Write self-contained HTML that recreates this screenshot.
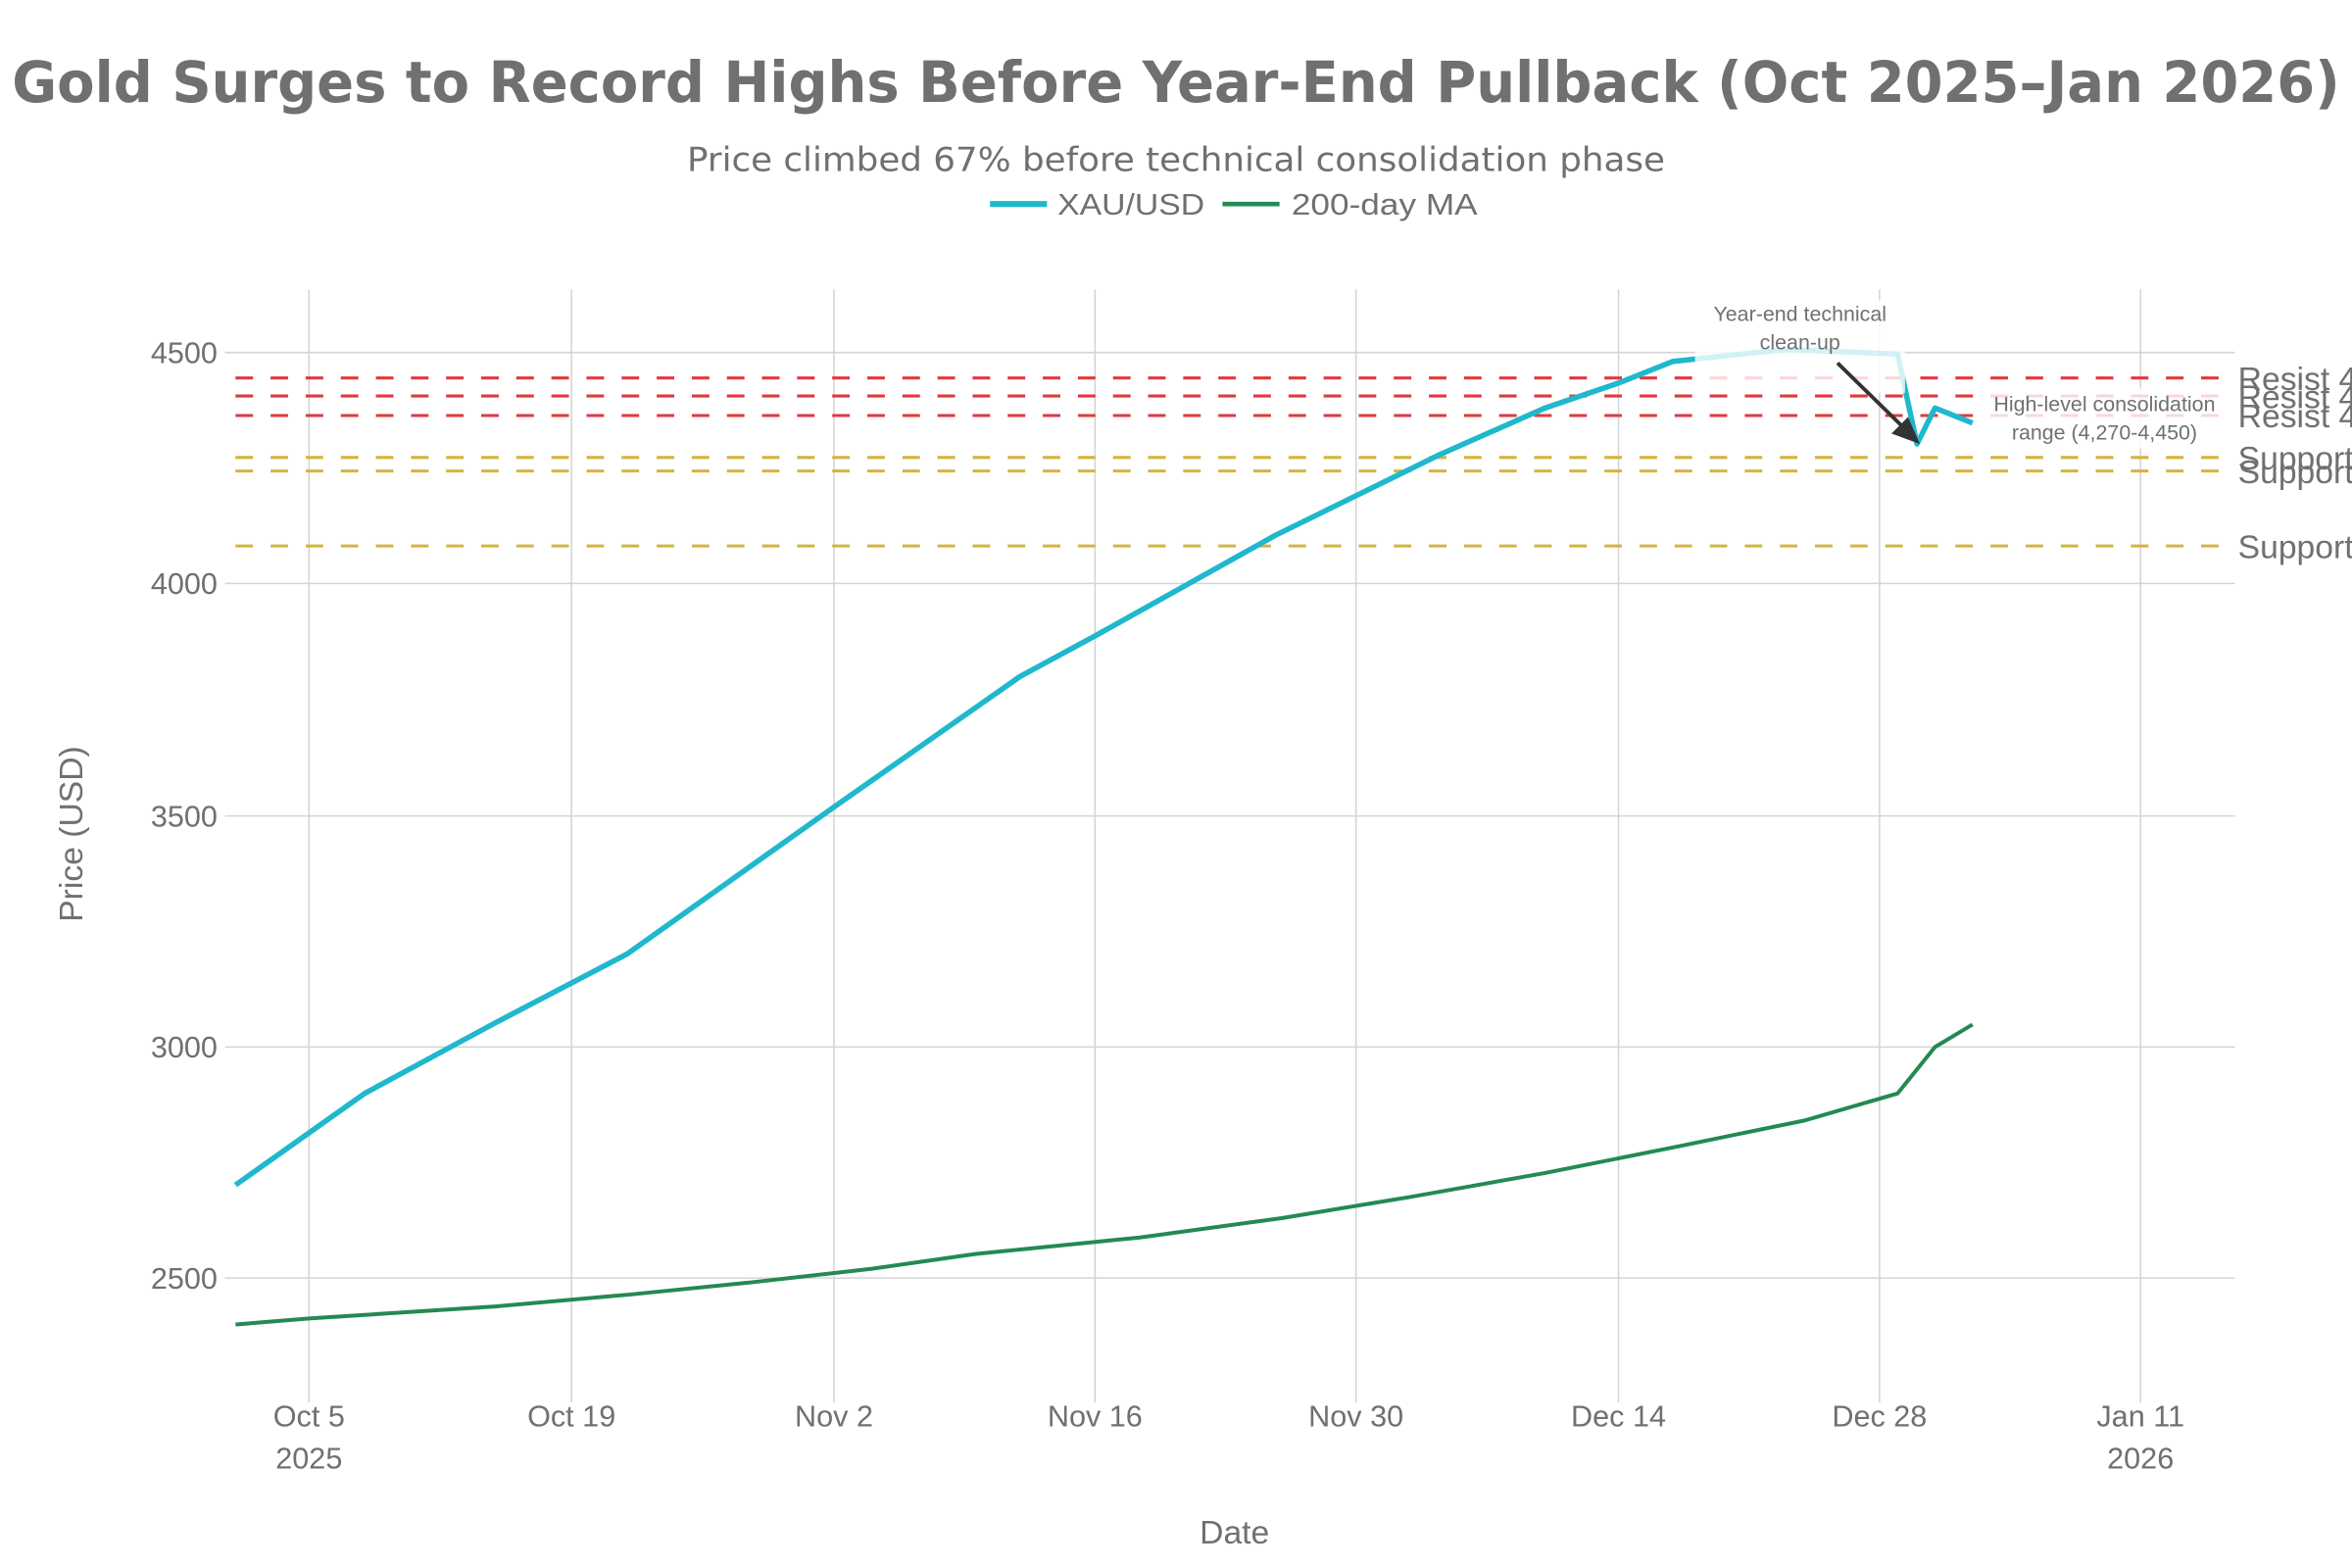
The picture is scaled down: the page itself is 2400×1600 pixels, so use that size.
<!DOCTYPE html>
<html><head><meta charset="utf-8"><style>
html,body{margin:0;padding:0;background:#fff;}
svg{display:block;}
text{font-family:"Liberation Sans",sans-serif;fill:#707070;}
</style></head><body>
<svg width="2400" height="1600" viewBox="0 0 1568 1045.33" xmlns="http://www.w3.org/2000/svg">
<rect width="1568" height="1046" fill="#fff"/>
<text x="784" y="68" text-anchor="middle" font-size="38" font-weight="bold" style="font-family:'DejaVu Sans',sans-serif" textLength="1552" lengthAdjust="spacingAndGlyphs">Gold Surges to Record Highs Before Year-End Pullback (Oct 2025–Jan 2026)</text>
<text x="784" y="114" text-anchor="middle" font-size="22" style="font-family:'DejaVu Sans',sans-serif" textLength="652" lengthAdjust="spacingAndGlyphs">Price climbed 67% before technical consolidation phase</text>
<line x1="660" y1="136" x2="698" y2="136" stroke="#1fb8cd" stroke-width="4"/>
<text x="705" y="143" font-size="20" textLength="98" lengthAdjust="spacingAndGlyphs">XAU/USD</text>
<line x1="815" y1="136" x2="853" y2="136" stroke="#238a52" stroke-width="3"/>
<text x="861" y="143" font-size="20" textLength="124" lengthAdjust="spacingAndGlyphs">200-day MA</text>
<g stroke="#d4d4d4" stroke-width="1">
<line x1="206" y1="193" x2="206" y2="935"/><line x1="381" y1="193" x2="381" y2="935"/>
<line x1="556" y1="193" x2="556" y2="935"/><line x1="730" y1="193" x2="730" y2="935"/>
<line x1="904" y1="193" x2="904" y2="935"/><line x1="1079" y1="193" x2="1079" y2="935"/>
<line x1="1253" y1="193" x2="1253" y2="935"/><line x1="1427" y1="193" x2="1427" y2="935"/>
<line x1="150" y1="235" x2="1490" y2="235"/><line x1="150" y1="389" x2="1490" y2="389"/>
<line x1="150" y1="544" x2="1490" y2="544"/><line x1="150" y1="698" x2="1490" y2="698"/>
<line x1="150" y1="852" x2="1490" y2="852"/>
</g>
<g font-size="20" text-anchor="end">
<text x="145" y="242">4500</text><text x="145" y="396">4000</text><text x="145" y="551">3500</text><text x="145" y="705">3000</text><text x="145" y="859">2500</text>
</g>
<g font-size="20" text-anchor="middle">
<text x="206" y="951">Oct 5</text><text x="206" y="979">2025</text>
<text x="381" y="951">Oct 19</text><text x="556" y="951">Nov 2</text><text x="730" y="951">Nov 16</text>
<text x="904" y="951">Nov 30</text><text x="1079" y="951">Dec 14</text><text x="1253" y="951">Dec 28</text>
<text x="1427" y="951">Jan 11</text><text x="1427" y="979">2026</text>
<text x="823" y="1029" font-size="22">Date</text>
<text transform="translate(55,556) rotate(-90)" font-size="22">Price (USD)</text>
</g>
<g stroke-width="2" stroke-dasharray="11.7,11.7" fill="none">
<line x1="157" y1="252" x2="1487" y2="252" stroke="#e0393e"/>
<line x1="157" y1="264" x2="1487" y2="264" stroke="#e0393e"/>
<line x1="157" y1="277" x2="1487" y2="277" stroke="#e0393e"/>
<line x1="157" y1="305" x2="1487" y2="305" stroke="#d4b43c"/>
<line x1="157" y1="314" x2="1487" y2="314" stroke="#d4b43c"/>
<line x1="157" y1="364" x2="1487" y2="364" stroke="#d4b43c"/>
</g>
<g font-size="22">
<text x="1492" y="260">Resist 4,450</text><text x="1492" y="272">Resist 4,410</text><text x="1492" y="285">Resist 4,370</text>
<text x="1492" y="313">Support 4,270</text><text x="1492" y="322">Support 4,240</text><text x="1492" y="372">Support 4,080</text>
</g>
<polyline fill="none" stroke="#238a52" stroke-width="2.6" stroke-linejoin="round" points="157,883 206,879 330,871 420,863 500,855 580,846 650,836 760,825 855,812 940,798 1030,782 1120,764 1203,747 1265,729 1290,698 1315,683"/>
<polyline fill="none" stroke="#1fb8cd" stroke-width="3.6" stroke-linejoin="round" points="157,790 243,729 330,682 418,636 556,538 680,451 730,424 850,357 960,303 1030,272 1080,255 1115,241 1190,233 1265,236 1278,296 1290,272 1315,282"/>
<rect x="1130" y="200" width="140" height="62" fill="#fff" fill-opacity="0.8"/>
<rect x="1318" y="259" width="169" height="40" fill="#fff" fill-opacity="0.8"/>
<g font-size="14" text-anchor="middle">
<text x="1200" y="214">Year-end technical</text><text x="1200" y="233">clean-up</text>
<text x="1403" y="274">High-level consolidation</text><text x="1403" y="293">range (4,270-4,450)</text>
</g>
<line x1="1225" y1="242" x2="1268" y2="284" stroke="#333" stroke-width="2.5"/>
<polygon points="1280,296 1261,289 1272,278" fill="#333"/>
</svg>
</body></html>
